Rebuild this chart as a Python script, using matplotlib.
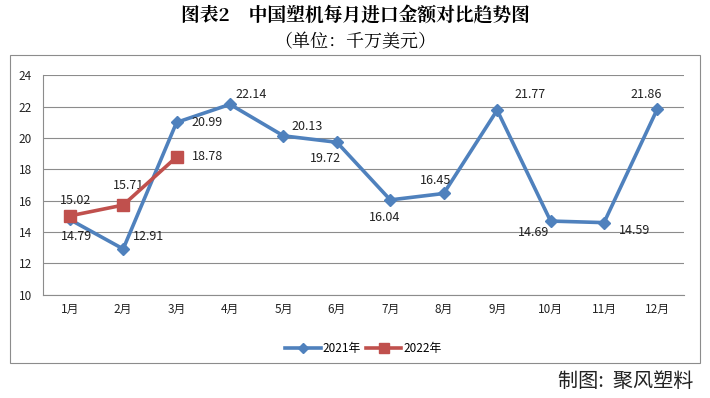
import matplotlib.pyplot as plt
from matplotlib.patches import Rectangle

plt.rcParams['font.family'] = ['Noto Sans CJK SC', 'DejaVu Sans']

months = ['1月', '2月', '3月', '4月', '5月', '6月', '7月', '8月', '9月', '10月', '11月', '12月']
vals_2021 = [14.79, 12.91, 20.99, 22.14, 20.13, 19.72, 16.04, 16.45, 21.77, 14.69, 14.59, 21.86]
vals_2022 = [15.02, 15.71, 18.78]
yticks = [10, 12, 14, 16, 18, 20, 22, 24]

# label offsets (points) for each data label
off_2021 = [(5, -12), (18, 9), (22, 0), (15, 7), (17, 7), (-8, -12),
            (-4, -13), (-6, 9), (24, 11), (-12, -8), (22, -6), (-8, 10)]
off_2022 = [(4, 11), (4, 14), (22, 0)]

BLUE = '#4F81BD'
RED = '#C0504D'

fig = plt.figure(figsize=(7.1, 3.98), dpi=100)
ax = fig.add_axes([0.0606, 0.2600, 0.9030, 0.5510])

# outer chart border
fig.patches.append(Rectangle((0.014, 0.088), 0.972, 0.774, transform=fig.transFigure,
                             fill=False, edgecolor='#8c8c8c', linewidth=0.8))

x = range(len(months))
ax.plot(x, vals_2021, color=BLUE, linewidth=2.6, marker='D', markersize=6.5,
        label='2021年', zorder=3)
ax.plot(range(len(vals_2022)), vals_2022, color=RED, linewidth=2.6, marker='s',
        markersize=9, label='2022年', zorder=4)

for i, v in enumerate(vals_2021):
    ax.annotate(f'{v:.2f}', (i, v), xytext=off_2021[i], textcoords='offset points',
                ha='center', va='center', fontsize=9, color='#222222')
for i, v in enumerate(vals_2022):
    ax.annotate(f'{v:.2f}', (i, v), xytext=off_2022[i], textcoords='offset points',
                ha='center', va='center', fontsize=9, color='#222222')

ax.set_xlim(-0.5, 11.5)
ax.set_ylim(10, 24)
ax.set_yticks(yticks)
ax.set_xticks(list(x))
ax.set_xticklabels(months)
ax.tick_params(axis='both', length=0, labelsize=8.5, colors='#222222')
ax.tick_params(axis='y', pad=8)
ax.tick_params(axis='x', pad=6)
ax.grid(axis='y', color='#8c8c8c', linewidth=0.8)
ax.set_axisbelow(True)
for s in ['top', 'right']:
    ax.spines[s].set_visible(False)
for s in ['left', 'bottom']:
    ax.spines[s].set_color('#8c8c8c')
    ax.spines[s].set_linewidth(0.8)

ax.legend(loc='center', bbox_to_anchor=(0.5, -0.245), ncol=2, frameon=False,
          fontsize=8.5, handlelength=3, columnspacing=0.4, handletextpad=0.2,
          markerscale=0.75)

fig.text(0.5, 0.958, '图表2    中国塑机每月进口金额对比趋势图', ha='center', va='center',
         fontsize=13.5, fontweight='bold', family=['Noto Serif CJK SC', 'Noto Sans CJK SC'])
fig.text(0.5, 0.895, '（单位：千万美元）', ha='center', va='center', fontsize=13,
         family=['Noto Serif CJK SC', 'Noto Sans CJK SC'])
fig.text(0.977, 0.042, '制图:  聚风塑料', ha='right', va='center', fontsize=14.5, color='#222222')

fig.savefig('out.png', dpi=100)
